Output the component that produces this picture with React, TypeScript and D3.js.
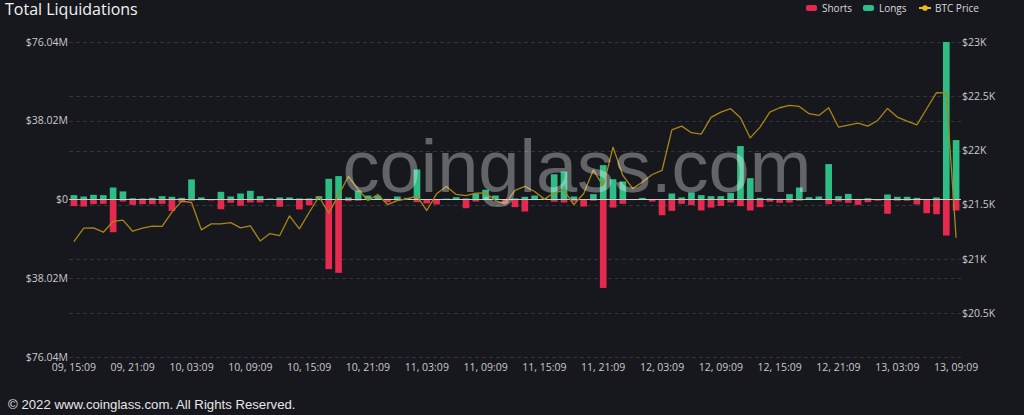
import React from "react";
import * as d3 from "d3";

const categories: string[] = [
  "09, 15:09","09, 16:09","09, 17:09","09, 18:09","09, 19:09","09, 20:09","09, 21:09","09, 22:09","09, 23:09",
  "10, 00:09","10, 01:09","10, 02:09","10, 03:09","10, 04:09","10, 05:09","10, 06:09","10, 07:09","10, 08:09",
  "10, 09:09","10, 10:09","10, 11:09","10, 12:09","10, 13:09","10, 14:09","10, 15:09","10, 16:09","10, 17:09",
  "10, 18:09","10, 19:09","10, 20:09","10, 21:09","10, 22:09","10, 23:09",
  "11, 00:09","11, 01:09","11, 02:09","11, 03:09","11, 04:09","11, 05:09","11, 06:09","11, 07:09","11, 08:09",
  "11, 09:09","11, 10:09","11, 11:09","11, 12:09","11, 13:09","11, 14:09","11, 15:09","11, 16:09","11, 17:09",
  "11, 18:09","11, 19:09","11, 20:09","11, 21:09","11, 22:09","11, 23:09",
  "12, 00:09","12, 01:09","12, 02:09","12, 03:09","12, 04:09","12, 05:09","12, 06:09","12, 07:09","12, 08:09",
  "12, 09:09","12, 10:09","12, 11:09","12, 12:09","12, 13:09","12, 14:09","12, 15:09","12, 16:09","12, 17:09",
  "12, 18:09","12, 19:09","12, 20:09","12, 21:09","12, 22:09","12, 23:09",
  "13, 00:09","13, 01:09","13, 02:09","13, 03:09","13, 04:09","13, 05:09","13, 06:09","13, 07:09","13, 08:09",
  "13, 09:09",
];

// Long liquidations (USD millions)
const longs: number[] = [
  2.1, 1.45, 2.25, 2.1, 5.8, 3.9, 0.6, 0.5, 0.8, 1.6,
  1.3, 0.8, 9.7, 1.0, 0.2, 3.7, 1.45, 2.9, 4.2, 1.6,
  0.5, 1.0, 1.0, 0.5, 0.5, 1.6, 10.0, 11.3, 1.0, 4.3,
  1.9, 1.8, 0.3, 1.45, 0.8, 14.5, 0.1, 0.1, 0.4, 1.1,
  0.5, 2.9, 4.7, 1.9, 0.2, 0.5, 1.3, 1.9, 0.5, 12.2,
  13.5, 1.45, 0.2, 2.6, 16.6, 9.8, 8.7, 0.2, 0.8, 0.1,
  0.1, 2.9, 1.0, 3.4, 2.1, 1.6, 1.6, 3.1, 25.8, 10.3,
  0.8, 0.5, 0.3, 2.6, 5.8, 1.1, 1.45, 17.1, 1.6, 2.7,
  0.3, 0.6, 0.2, 2.4, 1.3, 1.3, 0.8, 0.2, 1.0, 76.04,
  28.7,
];

// Short liquidations (USD millions, drawn downward)
const shorts: number[] = [
  3.2, 3.4, 2.25, 2.1, 15.8, 1.0, 2.6, 2.25, 2.25, 2.1,
  5.5, 1.45, 0.6, 0.3, 0.5, 4.7, 1.6, 3.0, 1.45, 1.45,
  0.2, 3.5, 0.2, 4.8, 2.7, 0.3, 33.6, 35.4, 0.8, 0.6,
  0.3, 0.1, 1.3, 0.5, 0.2, 1.3, 1.9, 2.4, 0.2, 0.2,
  4.2, 1.0, 0.3, 0.2, 1.9, 3.7, 5.8, 0.3, 0.2, 1.1,
  1.45, 1.0, 3.4, 0.6, 42.7, 3.9, 2.1, 0.3, 0.2, 1.0,
  7.6, 5.5, 2.1, 2.7, 5.3, 3.9, 3.1, 1.45, 3.2, 5.3,
  3.7, 1.1, 1.6, 1.45, 0.6, 0.2, 0.2, 2.25, 1.0, 1.6,
  2.6, 1.3, 0.6, 6.9, 0.6, 0.6, 2.4, 6.6, 7.1, 17.4,
  5.3,
];

// BTC price (USD)
const btcPrice: number[] = [
  21161, 21284, 21287, 21247, 21346, 21358, 21256, 21284, 21303, 21300,
  21432, 21533, 21521, 21269, 21324, 21324, 21336, 21287, 21306, 21167,
  21235, 21216, 21398, 21278, 21429, 21576, 21423, 21589, 21761, 21641,
  21539, 21595, 21502, 21539, 21555, 21582, 21447, 21601, 21669, 21595,
  21585, 21607, 21610, 21539, 21509, 21632, 21669, 21622, 21552, 21610,
  21632, 21502, 21601, 21822, 21669, 22031, 21770, 21650, 21709, 21779,
  21816, 22191, 22225, 22164, 22151, 22305, 22354, 22385, 22302, 22116,
  22216, 22354, 22394, 22416, 22406, 22339, 22323, 22394, 22216, 22234,
  22253, 22225, 22277, 22388, 22308, 22271, 22237, 22385, 22533, 22530,
  21195,
];

const xTickLabels: string[] = [
  "09, 15:09","09, 21:09","10, 03:09","10, 09:09","10, 15:09","10, 21:09","11, 03:09","11, 09:09",
  "11, 15:09","11, 21:09","12, 03:09","12, 09:09","12, 15:09","12, 21:09","13, 03:09","13, 09:09",
];

const leftTicks: number[] = [-76.04, -38.02, 0, 38.02, 76.04];
const rightTicks: number[] = [20500, 21000, 21500, 22000, 22500, 23000];

const W = 1024;
const H = 415;
const PLOT = { left: 69, right: 961, top: 42, bottom: 357 };
const BG = "#17181d";
const RED = "#e5294f";
const GREEN = "#2dbd85";
const LINE = "#a98518";
const LEG_YEL = "#e8b923";
const GRID = "#32343a";
const LABEL = "#c9c9cc";
const FONT = "'Open Sans', 'Noto Sans', sans-serif";

export default function App() {
  const x = d3
    .scaleBand<string>()
    .domain(categories)
    .range([PLOT.left, PLOT.right])
    .paddingInner(0.32)
    .paddingOuter(0.16);
  const step = x.step();
  const cx = (c: string) => (x(c) as number) + x.bandwidth() / 2;

  const yL = d3.scaleLinear().domain([-76.04, 76.04]).range([PLOT.bottom, PLOT.top]);
  const yR = d3.scaleLinear().domain([20097, 23000]).range([PLOT.bottom, PLOT.top]);

  const line = d3
    .line<number>()
    .x((_, i) => cx(categories[i]))
    .y((d) => yR(d))
    .curve(d3.curveLinear);

  const fmtL = (v: number) => (v === 0 ? "$0" : `$${Math.abs(v).toFixed(2)}M`);
  const fmtR = (v: number) => `$${d3.format("~")(v / 1000)}K`;

  return (
    <svg
      width={W}
      height={H}
      style={{ position: "fixed", left: 0, top: 0, display: "block" }}
      fontFamily={FONT}
    >
      <rect x={0} y={0} width={W} height={H} fill={BG} />

      {/* Title */}
      <text x={5} y={15} fill="#f2f2f2" fontSize={16}>
        Total Liquidations
      </text>

      {/* Legend */}
      <g fontSize={10} fill="#d9d9dc">
        <rect x={806} y={5} width={11} height={6} rx={2} fill={RED} />
        <text x={822} y={11.5}>Shorts</text>
        <rect x={863} y={5} width={11} height={6} rx={2} fill={GREEN} />
        <text x={879} y={11.5}>Longs</text>
        <line x1={919} x2={931} y1={8} y2={8} stroke={LEG_YEL} strokeWidth={2} />
        <circle cx={925} cy={8} r={2.8} fill={LEG_YEL} />
        <text x={935} y={11.5}>BTC Price</text>
      </g>

      {/* Grid lines */}
      <g stroke={GRID} strokeWidth={1} strokeDasharray="4 3">
        {leftTicks
          .filter((t) => t !== 0)
          .map((t) => (
            <line key={"gl" + t} x1={PLOT.left} x2={PLOT.right} y1={Math.round(yL(t)) + 0.5} y2={Math.round(yL(t)) + 0.5} />
          ))}
        {rightTicks.map((t) => (
          <line key={"gr" + t} x1={PLOT.left} x2={PLOT.right} y1={Math.round(yR(t)) + 0.5} y2={Math.round(yR(t)) + 0.5} />
        ))}
      </g>

      {/* Left axis labels */}
      <g fontSize={10.5} fill={LABEL} textAnchor="end">
        {leftTicks.map((t) => (
          <text key={"ll" + t} x={PLOT.left - 1} y={yL(t)} dy="0.35em">
            {fmtL(t)}
          </text>
        ))}
      </g>

      {/* Right axis labels */}
      <g fontSize={10.5} fill={LABEL} textAnchor="start">
        {rightTicks.map((t) => (
          <text key={"rl" + t} x={PLOT.right + 1} y={yR(t)} dy="0.35em">
            {fmtR(t)}
          </text>
        ))}
      </g>

      {/* Bars */}
      <g>
        {categories.map((c, i) => (
          <rect
            key={"s" + i}
            x={x(c)}
            y={yL(0)}
            width={x.bandwidth()}
            height={yL(-shorts[i]) - yL(0)}
            fill={RED}
          />
        ))}
        {categories.map((c, i) => (
          <rect
            key={"l" + i}
            x={x(c)}
            y={yL(longs[i])}
            width={x.bandwidth()}
            height={yL(0) - yL(longs[i])}
            fill={GREEN}
          />
        ))}
      </g>

      {/* Zero line */}
      <line x1={PLOT.left} x2={PLOT.right} y1={yL(0)} y2={yL(0)} stroke="#d0d0d3" strokeWidth={1} />

      {/* BTC price line */}
      <path d={line(btcPrice) || ""} fill="none" stroke={LINE} strokeWidth={1.3} strokeLinejoin="round" />

      {/* X axis labels */}
      <g fontSize={10.5} fill={LABEL} textAnchor="middle">
        {xTickLabels.map((l) => (
          <text key={l} x={cx(l)} y={367} dy="0.35em">
            {l}
          </text>
        ))}
      </g>

      {/* Watermark */}
      <text
        x={577}
        y={192}
        textAnchor="middle"
        fontSize={74}
        fontFamily="'Liberation Sans', Arial, sans-serif"
        fill="#ffffff"
        fillOpacity={0.33}
      >
        coinglass.com
      </text>

      {/* Footer */}
      <text x={8} y={409} fontSize={13.2} fill="#e6e6e6" fontFamily="'Liberation Sans', Arial, sans-serif">
        © 2022 www.coinglass.com. All Rights Reserved.
      </text>
    </svg>
  );
}
